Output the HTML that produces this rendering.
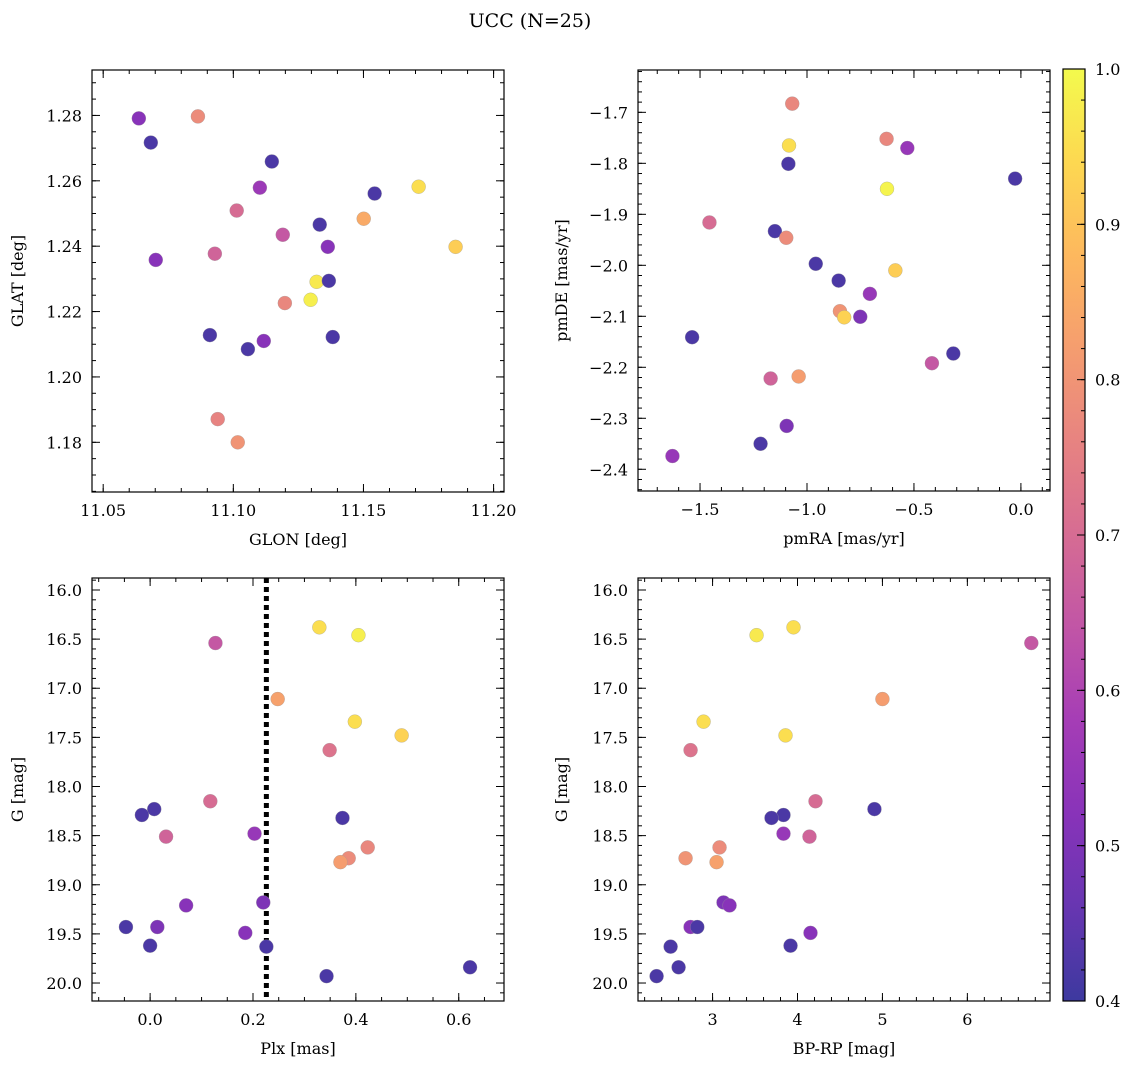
<!DOCTYPE html>
<html><head><meta charset="utf-8"><style>
body{margin:0;background:#fff;}
svg text{font-family:"DejaVu Serif","Liberation Serif",serif;fill:#000;}
</style></head><body>
<svg id="fig" width="1136" height="1068" viewBox="0 0 1136 1068" xmlns="http://www.w3.org/2000/svg">
<defs><linearGradient id="plasma" x1="0" y1="1" x2="0" y2="0"></linearGradient></defs>
<text x="530" y="27" text-anchor="middle" font-size="19">UCC (N=25)</text>
</svg>
<script>
// Panel 1: GLON vs GLAT
const p1x=[11.0637,11.0864,11.0683,11.1148,11.1102,11.1013,11.1543,11.1712,11.1501,11.1332,11.1190,11.1363,11.0929,11.0702,11.1854,11.1320,11.1367,11.1297,11.1198,11.0910,11.1382,11.1117,11.1056,11.0940,11.1017];
const p1y=[1.2791,1.2797,1.2717,1.2659,1.2579,1.2509,1.2561,1.2582,1.2484,1.2466,1.2435,1.2398,1.2377,1.2358,1.2398,1.2291,1.2294,1.2236,1.2226,1.2128,1.2122,1.2110,1.2085,1.1871,1.18];
const p1c=[0.52,0.78,0.42,0.42,0.56,0.7,0.42,0.95,0.85,0.42,0.65,0.52,0.68,0.52,0.92,0.97,0.42,0.98,0.77,0.42,0.42,0.52,0.42,0.76,0.8];
// Panel 2: pmRA vs pmDE
const p2x=[-1.069,-1.084,-1.087,-0.628,-0.531,-0.626,-0.027,-1.456,-1.150,-1.097,-0.959,-0.587,-0.852,-0.706,-0.846,-0.826,-0.751,-1.537,-0.316,-0.416,-1.039,-1.170,-1.095,-1.217,-1.629];
const p2y=[-1.683,-1.765,-1.801,-1.752,-1.770,-1.850,-1.830,-1.916,-1.933,-1.946,-1.997,-2.010,-2.030,-2.056,-2.090,-2.102,-2.101,-2.141,-2.173,-2.192,-2.218,-2.222,-2.315,-2.350,-2.374];
const p2c=[0.77,0.95,0.42,0.77,0.55,0.99,0.42,0.7,0.42,0.78,0.42,0.92,0.42,0.55,0.8,0.93,0.5,0.42,0.42,0.65,0.82,0.68,0.5,0.42,0.55];
// Panel 3: Plx vs G
const p3x=[0.127,0.329,0.405,0.248,0.398,0.489,0.349,0.117,0.008,-0.016,0.374,0.031,0.203,0.423,0.386,0.370,0.07,0.22,-0.047,0.014,0.185,0.0,0.226,0.343,0.622];
const p3y=[16.54,16.38,16.46,17.11,17.34,17.48,17.63,18.15,18.23,18.29,18.32,18.51,18.48,18.62,18.73,18.77,19.21,19.18,19.43,19.43,19.49,19.62,19.63,19.93,19.84];
const p3c=[0.65,0.95,0.98,0.83,0.95,0.93,0.72,0.7,0.42,0.42,0.42,0.68,0.55,0.77,0.78,0.82,0.52,0.5,0.42,0.5,0.52,0.42,0.42,0.42,0.42];
const plxLine=[0.226];
// Panel 4: BP-RP vs G
const p4x=[3.518,3.953,6.753,5.0,2.894,3.859,2.741,4.212,4.906,3.835,3.694,3.835,4.141,3.082,2.682,3.047,3.129,3.2,2.741,2.82,4.153,2.506,3.918,2.6,2.341];
const p4y=[16.46,16.38,16.54,17.11,17.34,17.48,17.63,18.15,18.23,18.29,18.32,18.48,18.51,18.62,18.73,18.77,19.18,19.21,19.43,19.43,19.49,19.63,19.62,19.84,19.93];
const p4c=[0.97,0.95,0.65,0.82,0.95,0.95,0.72,0.7,0.42,0.42,0.42,0.55,0.68,0.78,0.8,0.83,0.5,0.52,0.52,0.42,0.52,0.42,0.42,0.42,0.42];
const cbTicks=[0.4,0.5,0.6,0.7,0.8,0.9,1.0];

const NS="http://www.w3.org/2000/svg";
const svg=document.getElementById('fig');
const stops=["#0d0887","#41049d","#6a00a8","#8f0da4","#b12a90","#cc4778","#e16462","#f2844b","#fca636","#fcce25","#f0f921"];
const ALPHA=0.8;
function hex(h){return [1,3,5].map(i=>parseInt(h.substr(i,2),16));}
function fade(rgb){return rgb.map(x=>Math.round(x*ALPHA+255*(1-ALPHA)));}
function cmap(v){let t=(v-0.4)/0.6;t=Math.max(0,Math.min(1,t))*10;const i=Math.min(9,Math.floor(t)),f=t-i;const a=hex(stops[i]),b=hex(stops[i+1]);return 'rgb('+fade(a.map((x,k)=>x+(b[k]-x)*f)).join(',')+')';}
function mk(tag,attrs,parent){const e=document.createElementNS(NS,tag);for(const k in attrs)e.setAttribute(k,attrs[k]);(parent||svg).appendChild(e);return e;}
const grad=document.getElementById('plasma');
stops.forEach((s,i)=>mk('stop',{offset:(i*10)+'%','stop-color':'rgb('+fade(hex(s)).join(',')+')'},grad));

function fmt(v,d){return (v<-1e-9?'\u2212':'')+Math.abs(v).toFixed(d);}
function panel(o){
  const g=mk('g',{});
  
  
  const sx=v=>o.x0+(v-o.xmin)/(o.xmax-o.xmin)*(o.x1-o.x0);
  const sy=o.invert?(v=>o.y0+(v-o.ymin)/(o.ymax-o.ymin)*(o.y1-o.y0)):(v=>o.y1-(v-o.ymin)/(o.ymax-o.ymin)*(o.y1-o.y0));
  const tk=(step,len,isX,labels,dec)=>{
    const lo=isX?o.xmin:o.ymin,hi=isX?o.xmax:o.ymax;
    for(let k=Math.ceil(lo/step-1e-6);k*step<=hi+1e-9;k++){
      const v=k*step;
      if(isX){const p=sx(v);
        mk('line',{x1:p,x2:p,y1:o.y1,y2:o.y1-len,stroke:'#000','stroke-width':1},g);
        mk('line',{x1:p,x2:p,y1:o.y0,y2:o.y0+len,stroke:'#000','stroke-width':1},g);
        if(labels){const t=mk('text',{x:p,y:o.y1+24,'text-anchor':'middle','font-size':16},g);t.textContent=fmt(v,dec);}
      }else{const p=sy(v);
        mk('line',{y1:p,y2:p,x1:o.x0,x2:o.x0+len,stroke:'#000','stroke-width':1},g);
        mk('line',{y1:p,y2:p,x1:o.x1,x2:o.x1-len,stroke:'#000','stroke-width':1},g);
        if(labels){const t=mk('text',{x:o.x0-10,y:p+6,'text-anchor':'end','font-size':16},g);t.textContent=fmt(v,dec);}
      }
    }
  };
  tk(o.xminor,4,true,false);tk(o.xmajor,8,true,true,o.xdec);
  tk(o.yminor,4,false,false);tk(o.ymajor,8,false,true,o.ydec);
  if(o.vline!==undefined){const l=mk('line',{x1:sx(o.vline),x2:sx(o.vline),y1:o.y0,y2:o.y1,stroke:'#000','stroke-width':5,'stroke-dasharray':'5,4'},g);}
  o.xs.forEach((v,i)=>{
    const c=mk('circle',{cx:sx(v),cy:sy(o.ys[i]),r:7,fill:cmap(o.cs[i]),stroke:'#999','stroke-width':0.5,'stroke-opacity':0.6},g);
    
    
  });
  const fr=mk('rect',{x:o.x0,y:o.y0,width:o.x1-o.x0,height:o.y1-o.y0,fill:'none',stroke:'#000','stroke-width':1.2},g);
  
  const xl=mk('text',{x:(o.x0+o.x1)/2,y:o.y1+53,'text-anchor':'middle','font-size':16},g);xl.textContent=o.xlabel;
  
  const cy=(o.y0+o.y1)/2;const yl=mk('text',{x:o.ylx,y:cy,'text-anchor':'middle','font-size':16,transform:'rotate(-90 '+o.ylx+' '+cy+')'},g);yl.textContent=o.ylabel;
  
}
panel({name:'glon-glat-panel',x0:92,x1:504,y0:70,y1:492,xmin:11.0457,xmax:11.204,ymin:1.1648,ymax:1.2939,xmajor:0.05,xminor:0.01,ymajor:0.02,yminor:0.005,xdec:2,ydec:2,xs:p1x,ys:p1y,cs:p1c,xlabel:'GLON [deg]',ylabel:'GLAT [deg]',ylx:23});
panel({name:'pm-panel',x0:638,x1:1050,y0:70,y1:491,xmin:-1.79,xmax:0.136,ymin:-2.4426,ymax:-1.617,xmajor:0.5,xminor:0.1,ymajor:0.1,yminor:0.02,xdec:1,ydec:1,xs:p2x,ys:p2y,cs:p2c,xlabel:'pmRA [mas/yr]',ylabel:'pmDE [mas/yr]',ylx:567});
panel({name:'plx-g-panel',x0:92,x1:504,y0:578,y1:1001,xmin:-0.113,xmax:0.688,ymin:15.878,ymax:20.183,invert:true,xmajor:0.2,xminor:0.05,ymajor:0.5,yminor:0.1,xdec:1,ydec:1,xs:p3x,ys:p3y,cs:p3c,xlabel:'Plx [mas]',ylabel:'G [mag]',ylx:23,vline:plxLine[0]});
panel({name:'cmd-panel',x0:638,x1:1050,y0:578,y1:1001,xmin:2.122,xmax:6.973,ymin:15.878,ymax:20.183,invert:true,xmajor:1,xminor:0.2,ymajor:0.5,yminor:0.1,xdec:0,ydec:1,xs:p4x,ys:p4y,cs:p4c,xlabel:'BP-RP [mag]',ylabel:'G [mag]',ylx:567});
// colorbar
const cb=mk('g',{});


mk('rect',{x:1063,y:69,width:22,height:932,fill:'url(#plasma)',stroke:'#000','stroke-width':1.2},cb);
const cby=v=>1001-(v-0.4)/0.6*932;
for(let k=20;k<=50;k++){const v=k*0.02,p=cby(v);mk('line',{x1:1085,x2:1081,y1:p,y2:p,stroke:'#000','stroke-width':1},cb);}
cbTicks.forEach(v=>{const p=cby(v);mk('line',{x1:1085,x2:1077,y1:p,y2:p,stroke:'#000','stroke-width':1},cb);
  const t=mk('text',{x:1095,y:p+6,'font-size':16},cb);t.textContent=v.toFixed(1);
  
  });
</script>
</body></html>
